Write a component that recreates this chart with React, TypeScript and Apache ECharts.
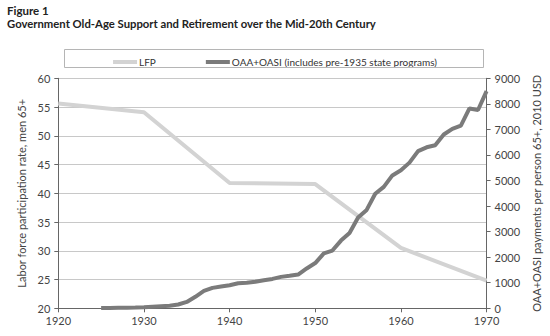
import React, { useEffect, useRef } from "react";
import * as echarts from "echarts";

const titleLine1 = "Figure 1";
const titleLine2 = "Government Old-Age Support and Retirement over the Mid-20th Century";

const lfpYears = [1920, 1930, 1940, 1950, 1960, 1970];
const lfpValues = [55.6, 54.1, 41.8, 41.6, 30.5, 24.8];

const oaaYears = [
  1925, 1926, 1927, 1928, 1929, 1930, 1931, 1932, 1933, 1934, 1935, 1936, 1937, 1938, 1939,
  1940, 1941, 1942, 1943, 1944, 1945, 1946, 1947, 1948, 1949, 1950, 1951, 1952, 1953, 1954,
  1955, 1956, 1957, 1958, 1959, 1960, 1961, 1962, 1963, 1964, 1965, 1966, 1967, 1968, 1969, 1970,
];
const oaaValues = [
  10, 15, 20, 25, 30, 40, 60, 80, 100, 150, 250, 450, 680, 800, 850,
  900, 980, 1000, 1040, 1100, 1150, 1230, 1270, 1320, 1560, 1770, 2150, 2260, 2650, 2950,
  3550, 3850, 4480, 4750, 5200, 5400, 5700, 6150, 6300, 6380, 6800, 7020, 7150, 7820, 7760, 8500,
];

const seriesNames = ["LFP", "OAA+OASI (includes pre-1935 state programs)"];
const leftAxisName = "Labor force participation rate, men 65+";
const rightAxisName = "OAA+OASI payments per person 65+, 2010 USD";

const FONT = "Lato, 'Open Sans', sans-serif";

export default function App() {
  const ref = useRef<HTMLDivElement>(null);
  useEffect(() => {
    if (!ref.current) return;
    const chart = echarts.init(ref.current, null, { renderer: "svg" });
    const plain = (v: number) => String(v);
    const axisLabel = { color: "#444", fontSize: 11, fontFamily: FONT, formatter: plain };
    const axisLine = { show: true, lineStyle: { color: "#666", width: 1 } };
    const axisTick = { show: true, length: 4, lineStyle: { color: "#666" } };
    chart.setOption({
      animation: false,
      backgroundColor: "#fff",
      textStyle: { fontFamily: FONT },
      graphic: [
        {
          type: "text",
          left: 7,
          top: 4,
          style: { text: titleLine1, font: "bold 11.5px " + FONT, fill: "#222" },
        },
        {
          type: "text",
          left: 7,
          top: 18,
          style: { text: titleLine2, font: "bold 11.3px " + FONT, fill: "#222" },
        },
        {
          type: "rect",
          left: 64,
          top: 49,
          shape: { x: 0, y: 0, width: 419, height: 18 },
          style: { fill: "transparent", stroke: "#b5b5b5", lineWidth: 1 },
          z: 10,
        },
      ],
      legend: {
        top: 52,
        left: "center",
        itemGap: 50,
        itemWidth: 24,
        itemHeight: 4,
        icon: "rect",
        textStyle: { color: "#333", fontSize: 10, fontFamily: FONT, padding: [0, 0, 0, -3] },
        data: seriesNames,
      },
      grid: { left: 58.3, right: 63.3, top: 78.3, bottom: 27.7 },
      xAxis: {
        type: "value",
        min: 1920,
        max: 1970,
        interval: 10,
        axisLine,
        axisTick,
        axisLabel: { ...axisLabel, margin: 7 },
        splitLine: { show: false },
      },
      yAxis: [
        {
          type: "value",
          min: 20,
          max: 60,
          interval: 5,
          position: "left",
          name: leftAxisName,
          nameLocation: "middle",
          nameGap: 31,
          nameTextStyle: { color: "#444", fontSize: 11, fontFamily: FONT },
          axisLine,
          axisTick,
          axisLabel: { ...axisLabel, margin: 8 },
          splitLine: { show: true, lineStyle: { color: "#c8c8c8", width: 1 } },
        },
        {
          type: "value",
          min: 0,
          max: 9000,
          interval: 1000,
          position: "right",
          name: rightAxisName,
          nameLocation: "middle",
          nameGap: 44,
          nameTextStyle: { color: "#444", fontSize: 11, fontFamily: FONT },
          axisLine,
          axisTick,
          axisLabel: { ...axisLabel, margin: 8 },
          splitLine: { show: false },
        },
      ],
      series: [
        {
          name: seriesNames[0],
          type: "line",
          yAxisIndex: 0,
          data: lfpYears.map((y, i) => [y, lfpValues[i]]),
          showSymbol: false,
          symbol: "none",
          lineStyle: { color: "#d3d3d3", width: 4 },
          itemStyle: { color: "#d3d3d3" },
          z: 2,
        },
        {
          name: seriesNames[1],
          type: "line",
          yAxisIndex: 1,
          data: oaaYears.map((y, i) => [y, oaaValues[i]]),
          showSymbol: false,
          symbol: "none",
          lineStyle: { color: "#7b7b7b", width: 4 },
          itemStyle: { color: "#7b7b7b" },
          z: 3,
        },
      ],
    });
    return () => chart.dispose();
  }, []);
  return (
    <div
      ref={ref}
      style={{ position: "fixed", left: 0, top: 0, width: 550, height: 336 }}
    />
  );
}
